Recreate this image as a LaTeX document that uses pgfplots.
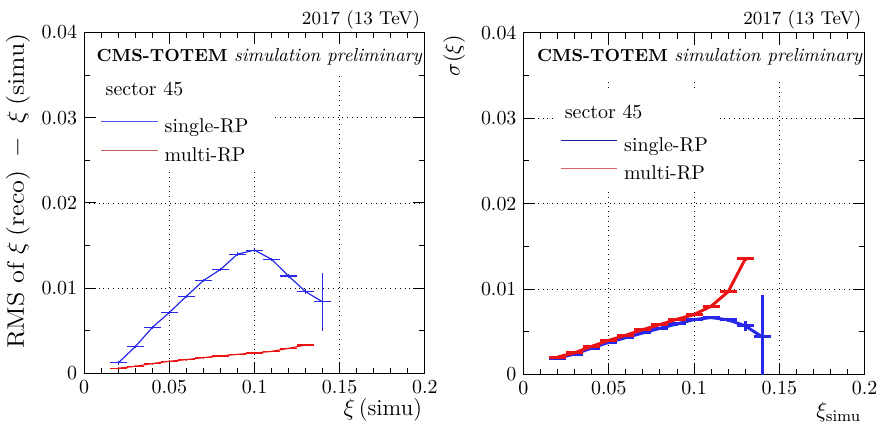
\documentclass[border=0pt]{standalone}
\usepackage{graphicx}
\usepackage{pgfplots}
\pgfplotsset{compat=1.18}
\usepackage{pgfplotstable}

\definecolor{rootblue}{RGB}{40,40,235}
\definecolor{rootred}{RGB}{235,20,20}
\definecolor{legnavy}{RGB}{30,30,150}
\definecolor{legred}{RGB}{215,100,100}

\pgfdeclarelayer{boxfill}
\pgfplotsset{
  layers/cmsboxes/.define layer set={
    axis background,axis grid,boxfill,axis ticks,axis lines,axis tick labels,pre main,main,axis descriptions,axis foreground
  }{
    grid style={/pgfplots/on layer=axis grid},
    tick style={/pgfplots/on layer=axis ticks},
    axis line style={/pgfplots/on layer=axis lines},
    label style={/pgfplots/on layer=axis descriptions},
    legend style={/pgfplots/on layer=axis descriptions},
    title style={/pgfplots/on layer=axis descriptions},
    ticklabel style={/pgfplots/on layer=axis tick labels},
  },
  rootframe/.style={
    set layers=cmsboxes,
    scale only axis,
    xmin=0, xmax=0.2, ymin=0, ymax=0.04,
    xtick={0,0.05,0.1,0.15,0.2},
    ytick={0,0.01,0.02,0.03,0.04},
    minor x tick num=4, minor y tick num=1,
    tick align=inside,
    major tick length=6pt, minor tick length=3pt,
    grid=major,
    major grid style={dotted, black, line width=0.4pt},
    axis line style={line width=0.6pt},
    tick style={line width=0.5pt, black},
    scaled ticks=false,
    /pgf/number format/fixed, /pgf/number format/precision=2,
    tick label style={font=\fontsize{10}{12}\selectfont},
    legend cell align=left,
    legend image code/.code={\draw[##1] (0pt,3pt) -- (28.5pt,3pt);},
  },
}

\newcommand{\cmstitle}{{\fontsize{8.8}{11}\selectfont\textbf{CMS-TOTEM}}
  {\fontsize{9.5}{11}\selectfont\textit{simulation preliminary}}}

% xi, value, vertical error
\pgfplotstableread{
x y ey
0.02 0.00125 0.0002
0.03 0.00315 0.0002
0.04 0.00540 0.0002
0.05 0.00716 0.0002
0.06 0.00906 0.0002
0.07 0.01090 0.0002
0.08 0.01220 0.0002
0.09 0.01400 0.0002
0.10 0.01447 0.0002
0.11 0.01340 0.0002
0.12 0.01143 0.0002
0.13 0.00960 0.0003
0.14 0.00840 0.0034
}\rmssingle

\pgfplotstableread{
x y ey
0.02 0.00062 0.0001
0.03 0.00085 0.0001
0.04 0.00117 0.0001
0.05 0.00144 0.0001
0.06 0.00163 0.0001
0.07 0.00187 0.0001
0.08 0.00206 0.0001
0.09 0.00225 0.0001
0.10 0.00241 0.0001
0.11 0.00260 0.0001
0.12 0.00295 0.0001
0.13 0.00335 0.0001
}\rmsmulti

\pgfplotstableread{
x y ey
0.02 0.00193 0.0001
0.03 0.00240 0.0001
0.04 0.00310 0.0001
0.05 0.00376 0.0001
0.06 0.00432 0.0001
0.07 0.00487 0.0001
0.08 0.00541 0.0001
0.09 0.00593 0.0002
0.10 0.00643 0.0002
0.11 0.00667 0.0002
0.12 0.00640 0.0002
0.13 0.00570 0.0006
0.14 0.00440 0.0049
}\sigsingle

\pgfplotstableread{
x y ey
0.02 0.00205 0.0001
0.03 0.00255 0.0001
0.04 0.00330 0.0001
0.05 0.00400 0.0001
0.06 0.00460 0.0001
0.07 0.00526 0.0001
0.08 0.00585 0.0001
0.09 0.00647 0.0001
0.10 0.00702 0.0001
0.11 0.00800 0.0001
0.12 0.00970 0.0002
0.13 0.01353 0.0002
}\sigmulti

\begin{document}
\begin{tikzpicture}

% ---- left: RMS
\begin{axis}[rootframe,
  at={(42.25pt,31.5pt)}, anchor=south west,
  width=171pt, height=171.25pt,
  legend style={at={(rel axis cs:0.047,0.748)}, anchor=north west,
    draw=none, fill=none, inner sep=0pt, row sep=5.5pt,
    font=\fontsize{10}{12}\selectfont,
    nodes={inner sep=0pt, text height=7pt, text depth=2pt},
    /tikz/every odd column/.append style={column sep=3.2pt}},
]
\begin{pgfonlayer}{boxfill}
  \fill[white] (rel axis cs:0,0.876) rectangle (rel axis cs:1,1);
  \fill[white] (rel axis cs:0,0.593) rectangle (rel axis cs:0.551,0.876);
\end{pgfonlayer}
\addplot[rootblue, line width=0.6pt, forget plot,
  error bars/.cd, x dir=both, x fixed=0.005, y dir=both, y explicit,
  error mark=none, error bar style={line width=0.6pt}]
  table[x=x, y=y, y error=ey] {\rmssingle};
\addplot[rootred, line width=0.6pt, forget plot,
  error bars/.cd, x dir=both, x fixed=0.005, y dir=both, y explicit,
  error mark=none, error bar style={line width=0.6pt}]
  table[x=x, y=y, y error=ey] {\rmsmulti};
\addlegendimage{rootblue!80!white, line width=0.5pt}
\addlegendentry{single-RP}
\addlegendimage{legred!90!black, line width=0.5pt}
\addlegendentry{multi-RP}
\node[anchor=base west, inner sep=0pt]
  at (rel axis cs:0.0357,0.915) {\cmstitle};
\node[anchor=base west, inner sep=0pt, font=\fontsize{10}{12}\selectfont]
  at (rel axis cs:0.062,0.8146) {sector 45};
\end{axis}

% ---- right: sigma
\begin{axis}[rootframe,
  at={(262.75pt,31pt)}, anchor=south west,
  width=171.25pt, height=171.5pt,
  legend style={at={(rel axis cs:0.106,0.694)}, anchor=north west,
    draw=none, fill=none, inner sep=0pt, row sep=5pt,
    font=\fontsize{10}{12}\selectfont,
    nodes={inner sep=0pt, text height=7pt, text depth=2pt},
    /tikz/every odd column/.append style={column sep=3.2pt}},
]
\begin{pgfonlayer}{boxfill}
  \fill[white] (rel axis cs:0,0.863) rectangle (rel axis cs:1,1);
  \fill[white] (rel axis cs:0.086,0.536) rectangle (rel axis cs:0.565,0.828);
\end{pgfonlayer}
\addplot[rootblue, line width=1.5pt, forget plot,
  error bars/.cd, x dir=both, x fixed=0.005, y dir=both, y explicit,
  error mark=none, error bar style={line width=1.5pt}]
  table[x=x, y=y, y error=ey] {\sigsingle};
\addplot[rootred, line width=1.5pt, forget plot,
  error bars/.cd, x dir=both, x fixed=0.005, y dir=both, y explicit,
  error mark=none, error bar style={line width=1.5pt}]
  table[x=x, y=y, y error=ey] {\sigmulti};
\addlegendimage{legnavy, line width=0.5pt}
\addlegendentry{single-RP}
\addlegendimage{legred, line width=0.5pt}
\addlegendentry{multi-RP}
\node[anchor=base west, inner sep=0pt]
  at (rel axis cs:0.0385,0.916) {\cmstitle};
\node[anchor=base west, inner sep=0pt, font=\fontsize{10}{12}\selectfont]
  at (rel axis cs:0.120,0.748) {sector 45};
\end{axis}

% ---- texts outside the frames
\node[anchor=base east, inner sep=0pt, font=\fontsize{9.3}{11}\selectfont]
  at (211pt,206.5pt) {2017 (13 TeV)};
\node[anchor=base east, inner sep=0pt, font=\fontsize{9.3}{11}\selectfont]
  at (432.5pt,206.5pt) {2017 (13 TeV)};
\node[rotate=90, anchor=east, inner sep=0pt, font=\fontsize{12}{14}\selectfont]
  at (9pt,202.5pt)
  {\scalebox{1.1}[1]{RMS of $\xi$\hspace{2.5pt}(reco)\hspace{6pt}$-$\hspace{6pt}$\xi$\hspace{2.5pt}(simu)}};
\node[rotate=90, anchor=east, inner sep=0pt, font=\fontsize{11}{13}\selectfont]
  at (228pt,201.5pt) {$\sigma(\xi)$};
\node[anchor=east, inner sep=0pt, font=\fontsize{11.5}{13}\selectfont]
  at (212pt,13.5pt) {$\xi$\,(simu)};
\node[anchor=east, inner sep=0pt, font=\fontsize{11}{13}\selectfont]
  at (432.5pt,12pt) {$\xi_{\mathrm{simu}}$};

% page frame, same proportions as the reference
\path (0,0) rectangle (442pt,219pt);
\end{tikzpicture}
\end{document}
